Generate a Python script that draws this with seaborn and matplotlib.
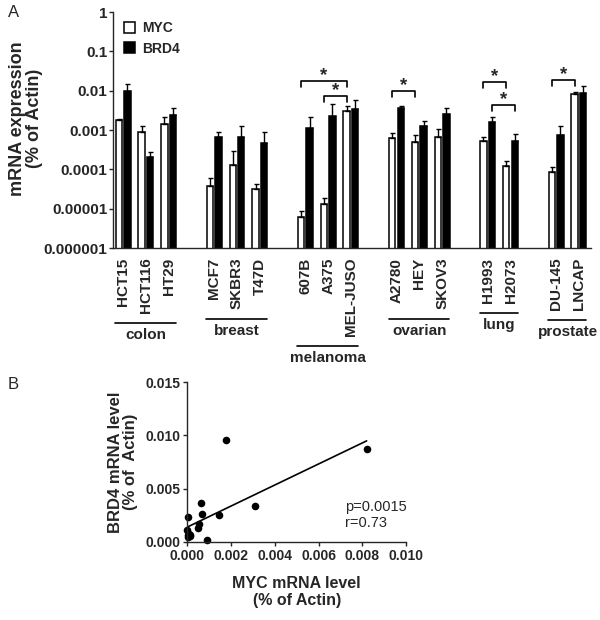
import matplotlib
matplotlib.use('Agg')
import numpy as np
import pandas as pd
import matplotlib.pyplot as plt
import seaborn as sns
from matplotlib.ticker import NullLocator, FormatStrFormatter

# 细胞系和组织分组
cell_lines = ['HCT15', 'HCT116', 'HT29', 'MCF7', 'SKBR3', 'T47D', '607B', 'A375', 'MEL-JUSO',
              'A2780', 'HEY', 'SKOV3', 'H1993', 'H2073', 'DU-145', 'LNCAP']
tissues = ['colon'] * 3 + ['breast'] * 3 + ['melanoma'] * 3 + ['ovarian'] * 3 + ['lung'] * 2 + ['prostate'] * 2
tissue_order = ['colon', 'breast', 'melanoma', 'ovarian', 'lung', 'prostate']
genes = ['MYC', 'BRD4']

# mRNA expression (% of Actin), mean and SEM
myc_mean = [0.00177, 0.0009, 0.00146, 3.8e-5, 0.000131, 3.2e-5, 6.2e-6, 1.3e-5, 0.0031,
            0.00061, 0.00049, 0.00067, 0.00052, 0.00012, 8.5e-5, 0.0082]
myc_sem = [0.00013, 0.0004, 0.00074, 2.2e-5, 0.00016, 1.0e-5, 2.3e-6, 5.5e-6, 0.0009,
           0.00024, 0.00024, 0.0004, 0.00014, 4e-5, 3.2e-5, 0.0011]
brd4_mean = [0.0096, 0.000205, 0.00247, 0.00067, 0.00067, 0.00047, 0.0011, 0.0023, 0.0034,
             0.0036, 0.0013, 0.0026, 0.00164, 0.00052, 0.00073, 0.0087]
brd4_sem = [0.0054, 6.5e-5, 0.0011, 0.00021, 0.00063, 0.00041, 0.0011, 0.0023, 0.0025,
            0.0004, 0.0004, 0.001, 0.00056, 0.00025, 0.00057, 0.0041]

# 显著性标记: (cell1, gene1, cell2, gene2, height)
sig_pairs = [('607B', 'MYC', 'MEL-JUSO', 'MYC', 0.0172),
             ('A375', 'MYC', 'MEL-JUSO', 'MYC', 0.0075),
             ('A2780', 'MYC', 'HEY', 'MYC', 0.0096),
             ('H1993', 'MYC', 'H2073', 'MYC', 0.0166),
             ('H1993', 'BRD4', 'H2073', 'BRD4', 0.0044),
             ('DU-145', 'MYC', 'LNCAP', 'MYC', 0.019)]

yticks_a = [1, 0.1, 0.01, 0.001, 0.0001, 0.00001, 0.000001]
yticklabels_a = ['1', '0.1', '0.01', '0.001', '0.0001', '0.00001', '0.000001']
xticks_b = [0.0, 0.002, 0.004, 0.006, 0.008, 0.010]
yticks_b = [0.0, 0.005, 0.010, 0.015]
stats_text = 'p=0.0015\nr=0.73'

sns.set_style('ticks')
plt.rcParams['font.family'] = ['Liberation Sans', 'DejaVu Sans']
plt.rcParams['axes.linewidth'] = 1.0

# 类别顺序, 组间留空位
slot_order = []
for k, t in enumerate(tissue_order):
    slot_order += [c for c, tt in zip(cell_lines, tissues) if tt == t]
    if k < len(tissue_order) - 1:
        slot_order.append(' ' * (k + 1))

df = pd.DataFrame({
    'cell': cell_lines * 2,
    'gene': ['MYC'] * len(cell_lines) + ['BRD4'] * len(cell_lines),
    'value': myc_mean + brd4_mean,
})

fig = plt.figure(figsize=(6, 6.2), dpi=100)
axA = fig.add_axes([113 / 600, 1 - 248 / 620, 478 / 600, 236 / 620])
axB = fig.add_axes([187.3 / 600, 1 - 541.7 / 620, 218.7 / 600, 159.4 / 620])

sns.barplot(data=df, x='cell', y='value', hue='gene', order=slot_order, hue_order=genes,
            palette={'MYC': 'white', 'BRD4': 'black'}, edgecolor='black', linewidth=1.1,
            width=0.75, gap=0.25, saturation=1, errorbar=None, legend=False, ax=axA)
axA.set_yscale('log')

# 柱子的位置
bar_x = {}
bar_handles = []
for i, g in enumerate(genes):
    cont = axA.containers[i]
    bar_handles.append(cont)
    bars = sorted(cont, key=lambda r: r.get_x())
    for c, b in zip(cell_lines, bars):
        bar_x[(c, g)] = b.get_x() + b.get_width() / 2

for g, m, s in [('MYC', myc_mean, myc_sem), ('BRD4', brd4_mean, brd4_sem)]:
    xs = [bar_x[(c, g)] for c in cell_lines]
    axA.errorbar(xs, m, yerr=[np.zeros(len(m)), s], fmt='none', ecolor='black',
                 elinewidth=1.0, capsize=1.8, capthick=1.0)

for c1, g1, c2, g2, h in sig_pairs:
    x1, x2 = bar_x[(c1, g1)], bar_x[(c2, g2)]
    axA.plot([x1, x1, x2, x2], [h * 0.7, h, h, h * 0.7], color='black', lw=1.2, clip_on=False)
    axA.text((x1 + x2) / 2, h * 1.05, '*', ha='center', va='baseline', fontsize=13.5, fontweight='bold')

axA.set_ylim(1e-6, 1)
axA.set_xlim(-0.44, 20.53)
axA.set_yticks(yticks_a)
axA.set_yticklabels(yticklabels_a, fontsize=11, fontweight='bold')
axA.yaxis.set_minor_locator(NullLocator())
axA.set_xticks(range(len(slot_order)))
axA.set_xticklabels(slot_order, rotation=90, fontsize=11, fontweight='bold')
axA.tick_params(axis='x', length=0, pad=7)
axA.tick_params(axis='y', length=3, width=1.0, pad=1)
axA.set_xlabel('')
axA.set_ylabel('mRNA expression\n(% of Actin)', fontsize=13, fontweight='bold', linespacing=1.05)
axA.yaxis.set_label_coords(-0.146, 0.55)
sns.despine(ax=axA)

axA.legend(handles=bar_handles, labels=genes, loc='upper left', bbox_to_anchor=(0.018, 0.972),
           frameon=False, prop={'weight': 'bold', 'size': 10}, handlelength=0.8, handleheight=0.8,
           handletextpad=0.5, labelspacing=0.45, borderaxespad=0, borderpad=0.2)

# 组织标签
fig.canvas.draw()
renderer = fig.canvas.get_renderer()
labels = axA.get_xticklabels()
inv = axA.transAxes.inverted()
trans = axA.get_xaxis_transform()
for t in tissue_order:
    idx = [slot_order.index(c) for c, tt in zip(cell_lines, tissues) if tt == t]
    y0 = min(labels[i].get_window_extent(renderer).y0 for i in idx)
    y_line = inv.transform((0, y0 - 10))[1]
    y_text = inv.transform((0, y0 - 22))[1]
    axA.plot([idx[0] - 0.35, idx[-1] + 0.32], [y_line, y_line], color='black', lw=1.2,
             transform=trans, clip_on=False)
    axA.text((idx[0] + idx[-1]) / 2, y_text, t, transform=trans, ha='center', va='center',
             fontsize=11, fontweight='bold')

# B: 散点和回归线
sns.regplot(x=np.array(myc_mean), y=np.array(brd4_mean), ci=None, ax=axB,
            scatter_kws={'s': 30, 'color': 'black', 'alpha': 1, 'clip_on': False, 'linewidths': 0},
            line_kws={'color': 'black', 'lw': 1.2})
axB.set_xlim(0, 0.010)
axB.set_ylim(0, 0.015)
axB.set_xticks(xticks_b)
axB.set_yticks(yticks_b)
axB.xaxis.set_major_formatter(FormatStrFormatter('%.3f'))
axB.yaxis.set_major_formatter(FormatStrFormatter('%.3f'))
for lbl in axB.get_xticklabels() + axB.get_yticklabels():
    lbl.set_fontweight('bold')
    lbl.set_fontsize(10)
axB.tick_params(length=3, width=1.0, pad=2)
axB.set_xlabel('MYC mRNA level\n(% of Actin)', fontsize=11.5, fontweight='bold', linespacing=1.2)
axB.set_ylabel('BRD4 mRNA level\n(% of  Actin)', fontsize=12, fontweight='bold', linespacing=1.0)
axB.xaxis.set_label_coords(0.5, -0.215)
axB.yaxis.set_label_coords(-0.225, 0.5)
axB.text(0.0072, 0.0039, stats_text, ha='left', va='top', fontsize=10.5, linespacing=1.2)
sns.despine(ax=axB)

fig.text(8 / 600, 1 - 17 / 620, 'A', fontsize=12)
fig.text(8 / 600, 1 - 389 / 620, 'B', fontsize=12)

fig.savefig('out.png', dpi=100)
